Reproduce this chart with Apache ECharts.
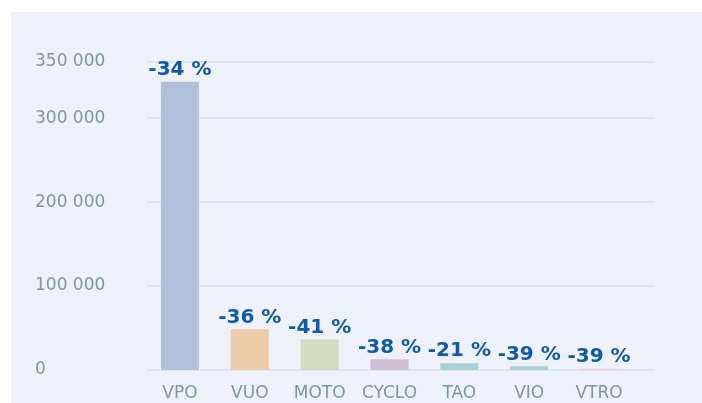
<!DOCTYPE html>
<html>
<head>
<meta charset="utf-8">
<script src="https://cdn.jsdelivr.net/npm/echarts@6/dist/echarts.min.js"></script>
<style>
  html, body { margin: 0; padding: 0; background: #ffffff; }
  /* panneau de fond */
  #panel { position: absolute; left: 11px; top: 12px; width: 691px; height: 391px; background: #eef1f9; }
  #main { position: absolute; left: 0; top: 0; width: 702px; height: 403px; }
</style>
</head>
<body>
<div id="panel"></div>
<div id="main"></div>
<script>
// données
var categories = ['VPO', 'VUO', 'MOTO', 'CYCLO', 'TAO', 'VIO', 'VTRO'];
var values = [343500, 48500, 36500, 12700, 8000, 4400, 1500];
var evolution = ['-34 %', '-36 %', '-41 %', '-38 %', '-21 %', '-39 %', '-39 %'];
var barColors = ['#b0c1db', '#eecba9', '#d3dcbf', '#cebed6', '#a8cfd3', '#a8cfd3', '#f5d3de'];
// graduations de l'axe (la dernière ligne est le haut de l'axe)
var tickValues = [0, 100000, 200000, 300000, 367000];
var tickLabels = ['0', '100 000', '200 000', '300 000', '350 000'];

var axisMax = tickValues[tickValues.length - 1];
var labelFont = 'DejaVu Sans';
var greyText = '#7f979c';

var chart = echarts.init(document.getElementById('main'), null, { renderer: 'canvas' });

var barData = values.map(function (v, i) {
  return { value: v, itemStyle: { color: barColors[i] } };
});

var option = {
  backgroundColor: 'transparent',
  animation: false,
  grid: [
    // grille des lignes horizontales
    { left: 147, right: 48, top: 62, bottom: 33 },
    // grille des barres
    { left: 145, right: 68, top: 62, bottom: 33 }
  ],
  xAxis: [
    { type: 'category', gridIndex: 0, data: categories, show: false },
    {
      type: 'category', gridIndex: 1, data: categories,
      axisLine: { show: false },
      axisTick: { show: false },
      axisLabel: { interval: 0, color: greyText, fontFamily: labelFont, fontSize: 17, margin: 15 }
    }
  ],
  yAxis: [
    {
      type: 'value', gridIndex: 0, min: 0, max: axisMax,
      axisLine: { show: false },
      axisTick: { show: false, customValues: tickValues },
      splitLine: { lineStyle: { color: '#dde1e8', width: 1.5 } },
      axisLabel: {
        customValues: tickValues,
        align: 'left',
        margin: 112,
        color: greyText,
        fontFamily: labelFont,
        fontSize: 17,
        formatter: function (v) {
          var i = tickValues.indexOf(v);
          return i >= 0 ? tickLabels[i] : '';
        }
      }
    },
    { type: 'value', gridIndex: 1, min: 0, max: axisMax, show: false }
  ],
  series: [{
    type: 'bar',
    xAxisIndex: 1,
    yAxisIndex: 1,
    barWidth: 38,
    data: barData,
    label: {
      show: true,
      position: 'top',
      distance: 2,
      color: '#0f5aa8',
      fontFamily: labelFont,
      fontWeight: 'bold',
      fontSize: 20,
      formatter: function (p) { return evolution[p.dataIndex]; }
    }
  }]
};

chart.setOption(option);
</script>
</body>
</html>
